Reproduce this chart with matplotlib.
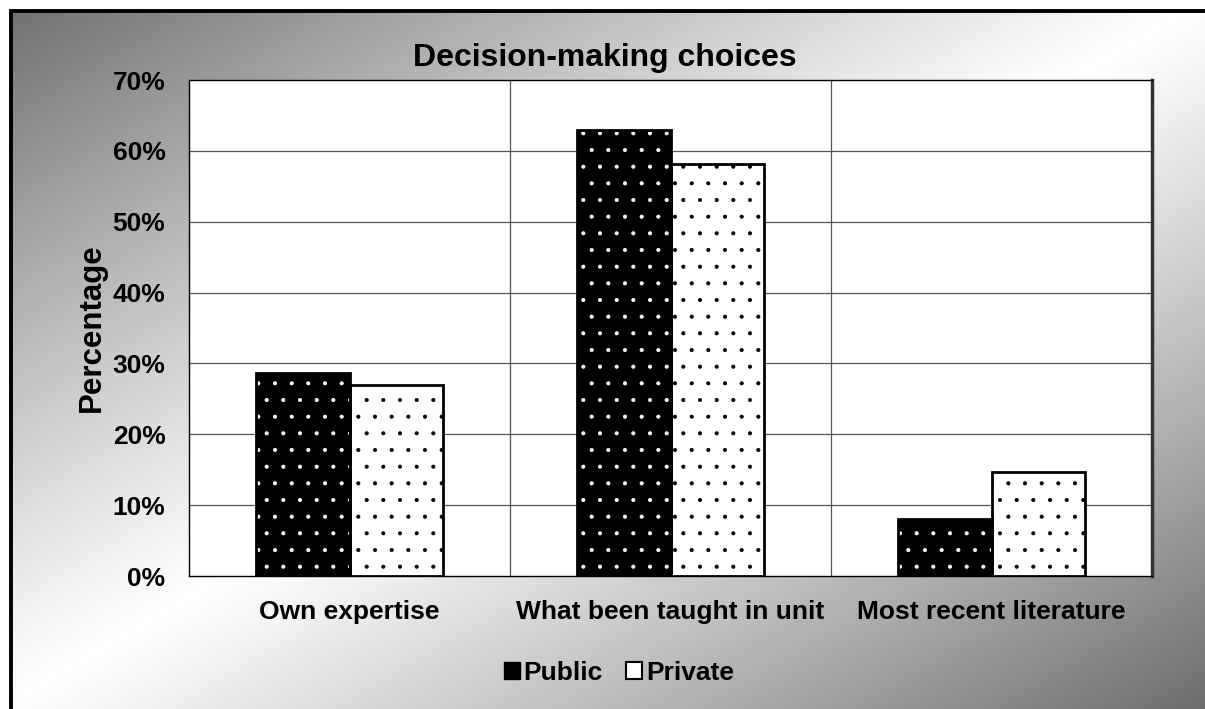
import numpy as np
import matplotlib.pyplot as plt
from matplotlib.patches import Patch, Rectangle
from matplotlib.lines import Line2D

categories = ["Own expertise", "What been taught in unit", "Most recent literature"]
public = [28.7, 63.0, 8.1]
private = [27.0, 58.1, 14.7]
yticks = [0, 10, 20, 30, 40, 50, 60, 70]

W, H, DPI = 1205, 709, 100
plt.rcParams['font.family'] = ['Liberation Sans', 'DejaVu Sans']
plt.rcParams['font.weight'] = 'bold'
plt.rcParams['hatch.linewidth'] = 0.5

fig = plt.figure(figsize=(W / DPI, H / DPI), dpi=DPI)

# diagonal grey backdrop, light along the anti-diagonal, darker at the corners
bg = fig.add_axes([0, 0, 1, 1], zorder=-10)
gx, gy = np.meshgrid(np.linspace(0, 1, 400), np.linspace(0, 1, 240))
v = np.abs(gx + gy - 1.0)
shade = 1.0 - 0.57 * v ** 1.1
bg.imshow(shade, cmap='gray', vmin=0, vmax=1, aspect='auto',
          extent=[0, 1, 1, 0], interpolation='bilinear')
bg.set_xlim(0, 1)
bg.set_ylim(1, 0)
bg.axis('off')
# white margin outside the chart frame
bg.add_patch(Rectangle((0, 0), 1, 10 / H, color='white', zorder=2))
bg.add_patch(Rectangle((0, 0), 10 / W, 1, color='white', zorder=2))
fig.add_artist(Line2D([11 / W, 1.0], [1 - 11 / H, 1 - 11 / H], color='black', lw=2.8))
fig.add_artist(Line2D([11 / W, 11 / W], [0, 1 - 11 / H], color='black', lw=2.8))

ax = fig.add_axes([189 / W, 1 - 576 / H, 963 / W, 496 / H])
ax.set_facecolor('white')

x = np.arange(len(categories))
bw = 0.29

# filled bars with dotted texture, then a crisp outline on top
ax.bar(x - bw / 2, public, bw, color='black', edgecolor='white', hatch='.', lw=0, zorder=3)
ax.bar(x + bw / 2, private, bw, color='white', edgecolor='black', hatch='.', lw=0, zorder=3)
ax.bar(x - bw / 2, public, bw, facecolor='none', edgecolor='black', lw=2, zorder=4)
ax.bar(x + bw / 2, private, bw, facecolor='none', edgecolor='black', lw=2, zorder=4)

ax.set_xlim(-0.5, len(categories) - 0.5)
ax.set_ylim(0, 70)
ax.set_yticks(yticks)
ax.set_yticklabels([f"{t}%" for t in yticks])
ax.set_xticks(x)
ax.set_xticklabels(categories)
ax.tick_params(axis='y', length=0, pad=17, labelsize=19)
ax.tick_params(axis='x', length=0, pad=17, labelsize=19)

for t in yticks[1:-1]:
    ax.axhline(t, color='#555555', lw=0.9, zorder=1)
for b in x[:-1] + 0.5:
    ax.axvline(b, color='#555555', lw=0.9, zorder=1)

for s in ['left', 'top', 'bottom']:
    ax.spines[s].set_color('black')
    ax.spines[s].set_linewidth(1.0)
ax.spines['right'].set_color('#333333')
ax.spines['right'].set_linewidth(2.5)

ax.set_ylabel("Percentage", fontsize=22.5, fontweight='bold', labelpad=4)
fig.text(605 / W, 1 - 58 / H, "Decision-making choices", ha='center', va='center',
         fontsize=23, fontweight='bold')

handles = [Patch(facecolor='black', edgecolor='black', label='Public'),
           Patch(facecolor='white', edgecolor='black', lw=1.5, label='Private')]
fig.legend(handles=handles, loc='center', bbox_to_anchor=(619 / W, 1 - 673 / H),
           ncol=2, frameon=False, fontsize=19, handlelength=0.6, handleheight=0.6,
           handletextpad=0.15, columnspacing=0.9)

fig.savefig("out.png", dpi=DPI)
